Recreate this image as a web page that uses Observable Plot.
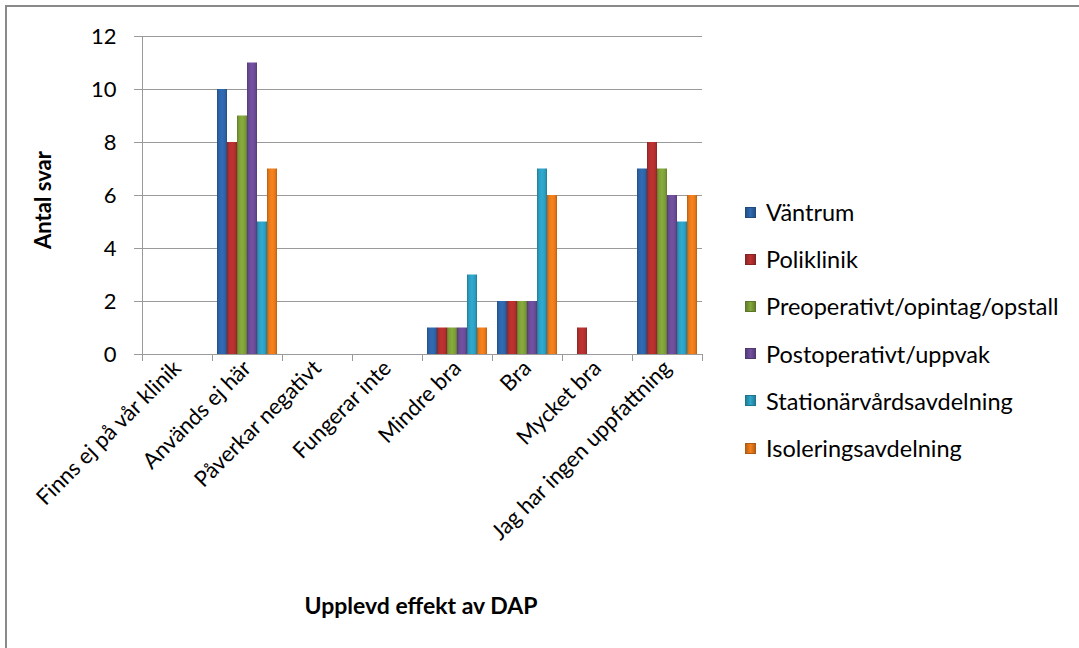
<!DOCTYPE html>
<html><head><meta charset="utf-8">
<script src="https://cdn.jsdelivr.net/npm/d3@7"></script>
<script src="https://cdn.jsdelivr.net/npm/@observablehq/plot@0.6"></script>
<style>
body{margin:0;background:#fff;}
#wrap{position:relative;width:1079px;height:648px;overflow:hidden;font-family:Lato,"Open Sans",sans-serif;color:#000;}
#border{position:absolute;left:5px;top:5px;width:1200px;height:800px;border-left:2px solid #8a8a8a;border-top:2px solid #8a8a8a;}
#chart{position:absolute;left:0;top:0;}
.ytitle{position:absolute;left:42px;top:200px;transform:translate(-50%,-50%) rotate(-90deg);font-weight:bold;font-size:22px;white-space:nowrap;}
.xtitle{position:absolute;left:421px;top:605px;transform:translate(-50%,-50%);font-weight:bold;font-size:23px;white-space:nowrap;}
#legend{position:absolute;left:745px;top:0;}
.row{position:absolute;left:0;height:26px;display:flex;align-items:center;white-space:nowrap;font-size:23.5px;}
.sw{width:11px;height:11px;margin-right:10px;box-sizing:border-box;}
</style>
</head><body>
<div id="wrap">
  <div id="border"></div>
  <div id="chart"></div>
  <div class="ytitle">Antal svar</div>
  <div class="xtitle">Upplevd effekt av DAP</div>
  <div id="legend"></div>
</div>
<script>
const categories = ["Finns ej på vår klinik","Används ej här","Påverkar negativt","Fungerar inte","Mindre bra","Bra","Mycket bra","Jag har ingen uppfattning"];
const series = ["Väntrum","Poliklinik","Preoperativt/opintag/opstall","Postoperativt/uppvak","Stationärvårdsavdelning","Isoleringsavdelning"];
const vantrum     = [0,10,0,0,1,2,0,7];
const poliklinik  = [0, 8,0,0,1,2,1,8];
const preop       = [0, 9,0,0,1,2,0,7];
const postop      = [0,11,0,0,1,2,0,6];
const station     = [0, 5,0,0,3,7,0,5];
const isolering   = [0, 7,0,0,1,6,0,6];
const yTicks = [0,2,4,6,8,10,12];
const colors = ["#2d63a6","#b02f2e","#7c9d37","#6a4b95","#2b9cbe","#e5781a"];

const values = [vantrum, poliklinik, preop, postop, station, isolering];
const data = series.flatMap((s,i)=>categories.map((c,j)=>({cat:c, series:s, value:values[i][j]})));

const plot = Plot.plot({
  width:1079, height:648,
  marginTop:36, marginBottom:294, marginLeft:139, marginRight:375,
  style:{fontFamily:"Lato, 'Open Sans', sans-serif", fontSize:"22px", color:"#000", background:"transparent"},
  fx:{domain:categories, padding:0, label:null, axis:null},
  x:{domain:series, paddingInner:0, paddingOuter:0.36, axis:null},
  y:{domain:[0,12], label:null, axis:null},
  color:{domain:series, range:series.map((s,i)=>`url(#g${i})`)},
  marks:[
    Plot.gridY(yTicks, {stroke:"#9a9a9a", strokeOpacity:1}),
    Plot.axisY(yTicks, {tickSize:8, tickPadding:18, stroke:"#9a9a9a", fill:"#000", label:null, fontSize:22, facetAnchor:"left"}),
    Plot.frame({anchor:"left", stroke:"#9a9a9a", facetAnchor:"left"}),
    Plot.frame({anchor:"left", stroke:"#9a9a9a", insetTop:318, insetBottom:-6}),
    Plot.frame({anchor:"right", stroke:"#9a9a9a", insetTop:318, insetBottom:-6, facetAnchor:"right"}),
    Plot.axisFx({anchor:"bottom", tickRotate:-45, tickSize:0, tickPadding:10, label:null, fontSize:22, fill:"#000"}),
    Plot.barY(data, {fx:"cat", x:"series", y:"value", fill:"series"}),
    Plot.ruleY([0], {stroke:"#9a9a9a"})
  ]
});

const svg = d3.select(plot.tagName.toLowerCase()==="svg" ? plot : plot.querySelector("svg"));
const defs = svg.insert("defs", ":first-child");
colors.forEach((c,i)=>{
  const g = defs.append("linearGradient").attr("id",`g${i}`).attr("x1",0).attr("x2",1).attr("y1",0).attr("y2",0);
  const base = d3.color(c);
  [[0, base.darker(0.7)],[0.18, base],[0.5, base.brighter(0.25)],[0.82, base],[1, base.darker(0.7)]].forEach(([o,col])=>{
    g.append("stop").attr("offset",o).attr("stop-color",col.formatHex());
  });
});
document.getElementById("chart").appendChild(plot);

const legend = d3.select("#legend");
series.forEach((s,i)=>{
  const row = legend.append("div").attr("class","row").style("top",(212 + i*47.2 - 13)+"px");
  const base = d3.color(colors[i]);
  row.append("div").attr("class","sw").style("background",`linear-gradient(to right, ${base.darker(0.6)}, ${base.brighter(0.2)}, ${base.darker(0.6)})`).style("border",`1px solid ${base.darker(0.8)}`);
  row.append("span").text(s);
});
</script>
</body></html>
